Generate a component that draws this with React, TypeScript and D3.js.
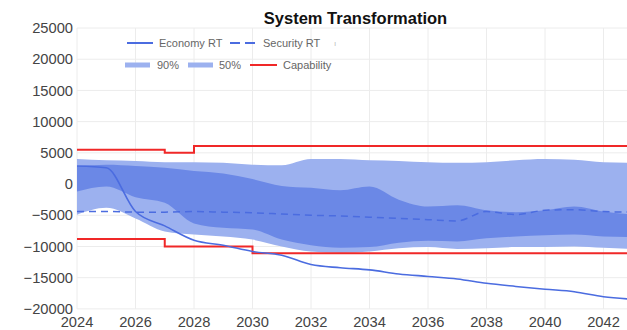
import React from "react";
import * as d3 from "d3";

const years = [2024, 2025, 2026, 2027, 2028, 2029, 2030, 2031, 2032, 2033, 2034, 2035, 2036, 2037, 2038, 2039, 2040, 2041, 2042, 2043];
const economyRT = [2900, 2600, -4400, -6700, -9000, -9800, -10800, -11400, -12900, -13400, -13750, -14400, -14800, -15200, -15900, -16400, -16850, -17250, -18050, -18450];
const securityRT = [-4400, -4400, -4500, -4500, -4400, -4500, -4600, -4800, -5000, -5100, -5300, -5500, -5700, -5900, -4400, -4900, -4200, -4100, -4400, -4500];
const p90Upper = [4000, 3800, 3700, 3500, 3500, 3400, 3100, 3000, 4000, 4000, 3800, 3700, 3500, 3400, 3500, 3800, 4000, 3900, 3500, 3400];
const p90Lower = [-4900, -3800, -5500, -7600, -8100, -8400, -8900, -10000, -10800, -11000, -10800, -10300, -10100, -10400, -10300, -10100, -10100, -10000, -10200, -10400];
const p50Upper = [2900, 3100, 2900, 2600, 2100, 1700, 800, -300, -600, -1000, -400, -2500, -3600, -3400, -4200, -4500, -4200, -3600, -4400, -4900];
const p50Lower = [-1200, -400, -2100, -3000, -6300, -7000, -7300, -8900, -9800, -10200, -10100, -9400, -9100, -9200, -8700, -8400, -8200, -8100, -8400, -8500];
const capUpper = [5500, 5500, 5500, 5000, 6100, 6100, 6100, 6100, 6100, 6100, 6100, 6100, 6100, 6100, 6100, 6100, 6100, 6100, 6100, 6100];
const capLower = [-8800, -8800, -8800, -10000, -10000, -10000, -11100, -11100, -11100, -11100, -11100, -11100, -11100, -11100, -11100, -11100, -11100, -11100, -11100, -11100];
const yTicks = [25000, 20000, 15000, 10000, 5000, 0, -5000, -10000, -15000, -20000];
const xTicks = [2024, 2026, 2028, 2030, 2032, 2034, 2036, 2038, 2040, 2042];
const title = "System Transformation";

const W = 627;
const H = 330;
const C_LIGHT = "#9cb1ef";
const C_DARK = "#6b88e6";
const C_LINE = "#4b6ce0";
const C_RED = "#f02828";

export default function App() {
  const x = d3.scaleLinear().domain([2024, 2042]).range([77, 603.5]);
  const y = d3.scaleLinear().domain([-20000, 25000]).range([308.9, 28]);
  const idx = years.map((_, i) => i);

  const area = (lo: number[], hi: number[]) =>
    d3.area<number>()
      .x((i) => x(years[i]))
      .y0((i) => y(lo[i]))
      .y1((i) => y(hi[i]))
      .curve(d3.curveMonotoneX)(idx) || "";
  const line = (v: number[], curve: d3.CurveFactory) =>
    d3.line<number>()
      .x((i) => x(years[i]))
      .y((i) => y(v[i]))
      .curve(curve)(idx) || "";

  const fmt = (v: number) => (v < 0 ? "\u2212" + Math.abs(v) : String(v));
  const font = "'Liberation Sans', Arial, sans-serif";
  const plotRight = W + 10;

  return (
    <div style={{ position: "fixed", left: 0, top: 0 }}>
      <svg width={W} height={H} style={{ display: "block", background: "#fff" }} fontFamily={font}>
        {/* grid */}
        {yTicks.map((t) => (
          <line key={"gy" + t} x1={x(2024)} x2={plotRight} y1={y(t)} y2={y(t)} stroke="#ececec" strokeWidth={1} />
        ))}
        {xTicks.map((t) => (
          <line key={"gx" + t} x1={x(t)} x2={x(t)} y1={y(25000)} y2={y(-20000)} stroke="#ececec" strokeWidth={1} />
        ))}
        {/* bands */}
        <path d={area(p90Lower, p90Upper)} fill={C_LIGHT} />
        <path d={area(p50Lower, p50Upper)} fill={C_DARK} />
        {/* capability */}
        <path d={line(capUpper, d3.curveStepAfter)} fill="none" stroke={C_RED} strokeWidth={2} />
        <path d={line(capLower, d3.curveStepAfter)} fill="none" stroke={C_RED} strokeWidth={2} />
        {/* security */}
        <path d={line(securityRT, d3.curveMonotoneX)} fill="none" stroke={C_LINE} strokeWidth={1.5} strokeDasharray="7,5" />
        {/* economy */}
        <path d={line(economyRT, d3.curveMonotoneX)} fill="none" stroke={C_LINE} strokeWidth={1.6} />
        {/* y labels */}
        {yTicks.map((t) => (
          <text key={"ty" + t} x={73} y={y(t)} dy="0.35em" textAnchor="end" fontSize={14.7} fill="#444">
            {fmt(t)}
          </text>
        ))}
        {/* x labels */}
        {xTicks.map((t) => (
          <text key={"tx" + t} x={x(t)} y={327} textAnchor="middle" fontSize={14.7} fill="#444">
            {t}
          </text>
        ))}
        {/* title */}
        <text x={355.5} y={24} textAnchor="middle" fontSize={16.5} fontWeight="bold" fill="#111">
          {title}
        </text>
        {/* legend row 1 */}
        <line x1={127} x2={153} y1={43} y2={43} stroke={C_LINE} strokeWidth={2} />
        <text x={159} y={43} dy="0.35em" fontSize={11} fill="#666">Economy RT</text>
        <line x1={230} x2={256} y1={43} y2={43} stroke={C_LINE} strokeWidth={2} strokeDasharray="10,5" />
        <text x={263} y={43} dy="0.35em" fontSize={11} fill="#666">Security RT</text>
        <text x={334} y={43} dy="0.35em" fontSize={8} fill="#bbb">ı</text>
        {/* legend row 2 */}
        <rect x={125} y={62.5} width={25} height={5} fill={C_LIGHT} />
        <text x={157} y={65} dy="0.35em" fontSize={11} fill="#666">90%</text>
        <rect x={188} y={62.5} width={25} height={5} fill={C_LIGHT} />
        <text x={219} y={65} dy="0.35em" fontSize={11} fill="#666">50%</text>
        <line x1={250} x2={277} y1={65} y2={65} stroke={C_RED} strokeWidth={2} />
        <text x={283} y={65} dy="0.35em" fontSize={11} fill="#666">Capability</text>
      </svg>
    </div>
  );
}
